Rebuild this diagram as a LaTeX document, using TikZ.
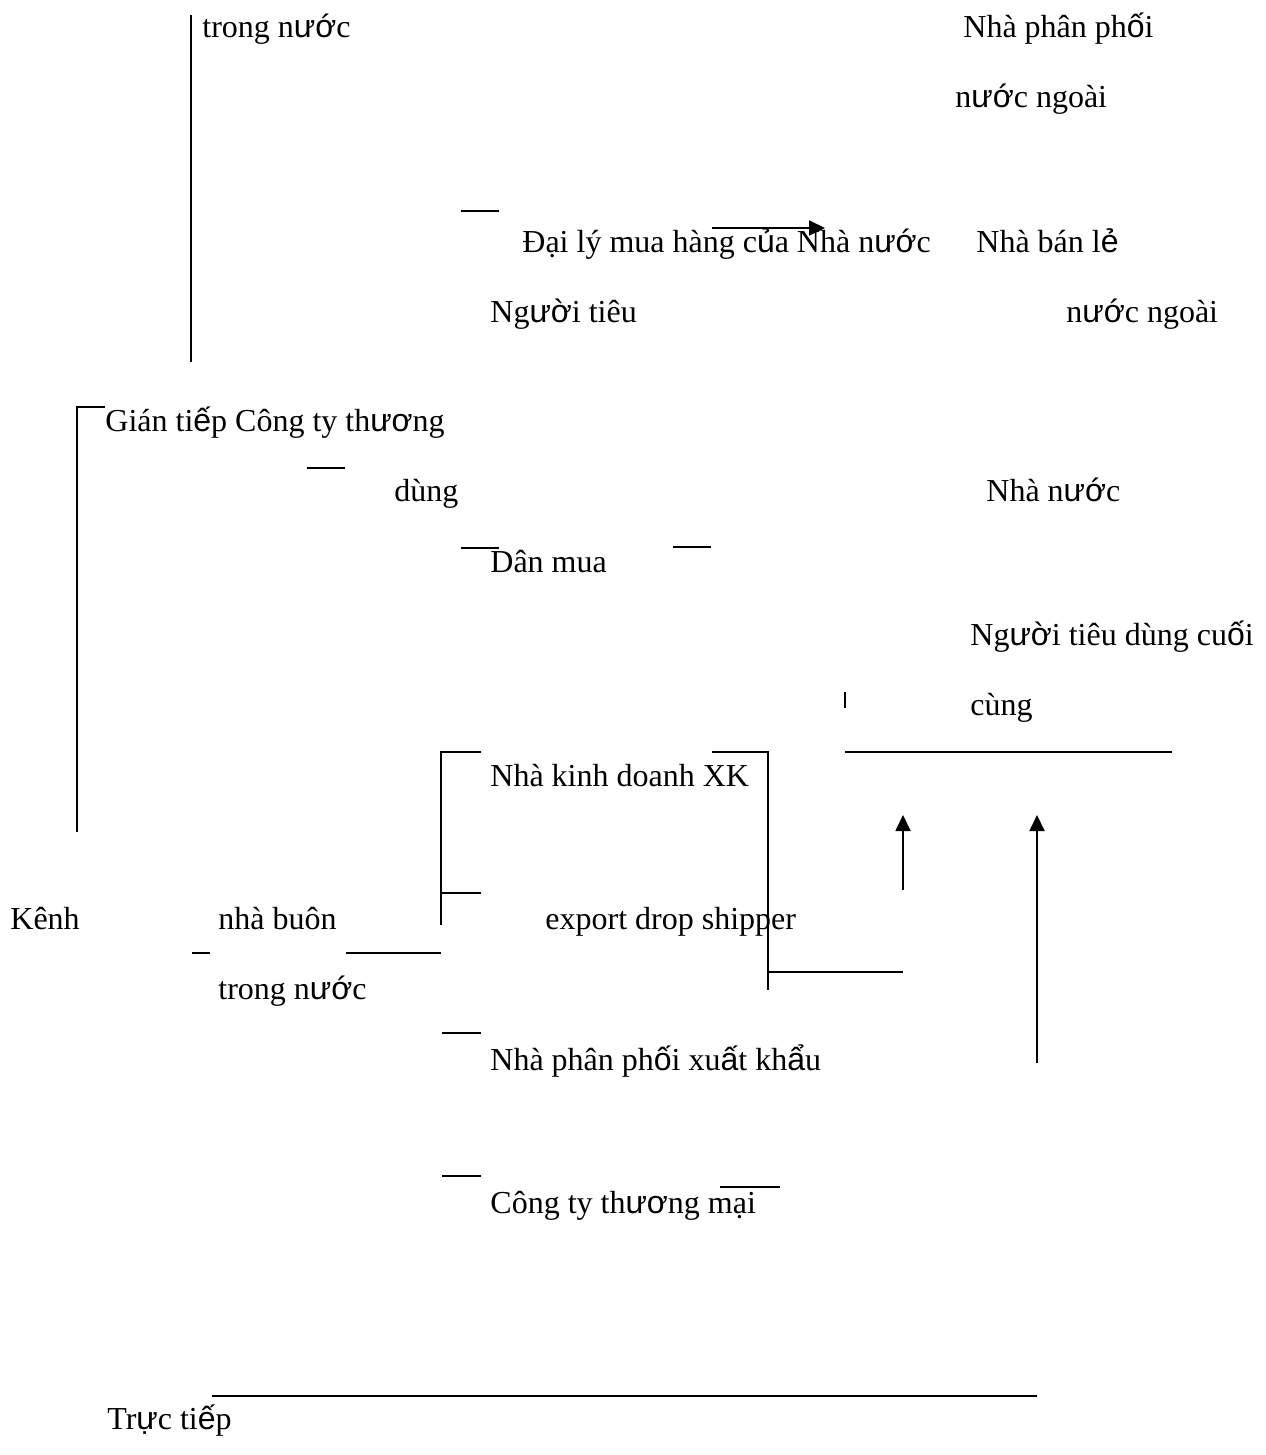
\documentclass[tikz,border=0pt]{standalone}
\usepackage{fontspec}
\setmainfont{Liberation Serif}
\newfontfamily\vnsans{Liberation Sans}
\newcommand{\vs}[1]{{\vnsans #1}}
\usepackage{tikz}
\usetikzlibrary{arrows.meta}

\begin{document}
\begin{tikzpicture}[
    x=0.5pt, y=-0.5pt,
    every node/.style={font=\fontsize{16}{19}\selectfont},
    label/.style={
        anchor=base west,
        inner sep=0pt
    },
    rule/.style={
        line width=0.9pt,
        draw=black
    },
    uparrow/.style={
        line width=0.9pt,
        -{Triangle[length=8pt, width=7.5pt]},
        draw=black
    }
]
\useasboundingbox (0,0) rectangle (1265,1455);

% ==================== TOP: TEXTS ====================
\node (top_domestic) [label] at (202, 38) {trong n\vs{ướ}c};
\node (dist_foreign) [label] at (963, 38) {Nhà phân ph\vs{ố}i};
\node (dist_foreign2) [label] at (955, 108) {n\vs{ướ}c ngoài};
\node (state_agent) [label] at (522, 252) {Đại lý mua hàng c\vs{ủ}a Nhà n\vs{ướ}c};
\node (retail_foreign) [label] at (976, 252) {Nhà bán l\vs{ẻ}};
\node (consumer_a) [label] at (490, 322) {Ng\vs{ườ}i tiêu};
\node (retail_foreign2) [label] at (1066, 322) {n\vs{ướ}c ngoài};

% ==================== MIDDLE: TEXTS ====================
\node (indirect) [label] at (105, 431) {Gián ti\vs{ế}p Công ty th\vs{ươ}ng};
\node (consumer_b) [label] at (394, 501) {dùng};
\node (state) [label] at (986, 501) {Nhà n\vs{ướ}c};
\node (citizen) [label] at (490, 572) {Dân mua};
\node (final_user) [label] at (970, 645) {Ng\vs{ườ}i tiêu dùng cu\vs{ố}i};
\node (final_user2) [label] at (970, 715) {cùng};
\node (exporter) [label] at (490, 786) {Nhà kinh doanh XK};

% ==================== BOTTOM: TEXTS ====================
\node (channel) [label] at (10, 929) {Kênh};
\node (wholesaler) [label] at (218, 929) {nhà buôn};
\node (dropship) [label] at (545, 929) {export drop shipper};
\node (wholesaler2) [label] at (218, 999) {trong n\vs{ướ}c};
\node (export_dist) [label] at (490, 1070) {Nhà phân ph\vs{ố}i xu\vs{ấ}t kh\vs{ẩ}u};
\node (trade_co) [label] at (490, 1213) {Công ty th\vs{ươ}ng mại};
\node (direct) [label] at (107, 1429) {Tr\vs{ự}c ti\vs{ế}p};

% ==================== LINES ====================
\draw [rule] (191, 15) -- (191, 362);
\draw [rule] (461, 211) -- (499, 211);
\draw [uparrow] (712, 228) -- (825, 228);
\draw [rule] (105, 407) -- (77, 407) -- (77, 832);
\draw [rule] (307, 468) -- (345, 468);
\draw [rule] (461, 548) -- (499, 548);
\draw [rule] (673, 547) -- (711, 547);
\draw [rule] (845, 692) -- (845, 708);
\draw [rule] (845, 752) -- (1172, 752);

% bracket round the export traders
\draw [rule] (481, 752) -- (441, 752) -- (441, 925);
\draw [rule] (441, 893) -- (481, 893);
\draw [rule] (712, 752) -- (768, 752) -- (768, 990);

% arrows up to the final consumer
\draw [uparrow] (903, 890) -- (903, 815);
\draw [uparrow] (1037, 1063) -- (1037, 815);

\draw [rule] (192, 953) -- (210, 953);
\draw [rule] (346, 953) -- (441, 953);
\draw [rule] (768, 972) -- (903, 972);
\draw [rule] (442, 1033) -- (481, 1033);
\draw [rule] (442, 1176) -- (481, 1176);
\draw [rule] (720, 1187) -- (780, 1187);
\draw [rule] (212, 1396) -- (1037, 1396);

\end{tikzpicture}
\end{document}
